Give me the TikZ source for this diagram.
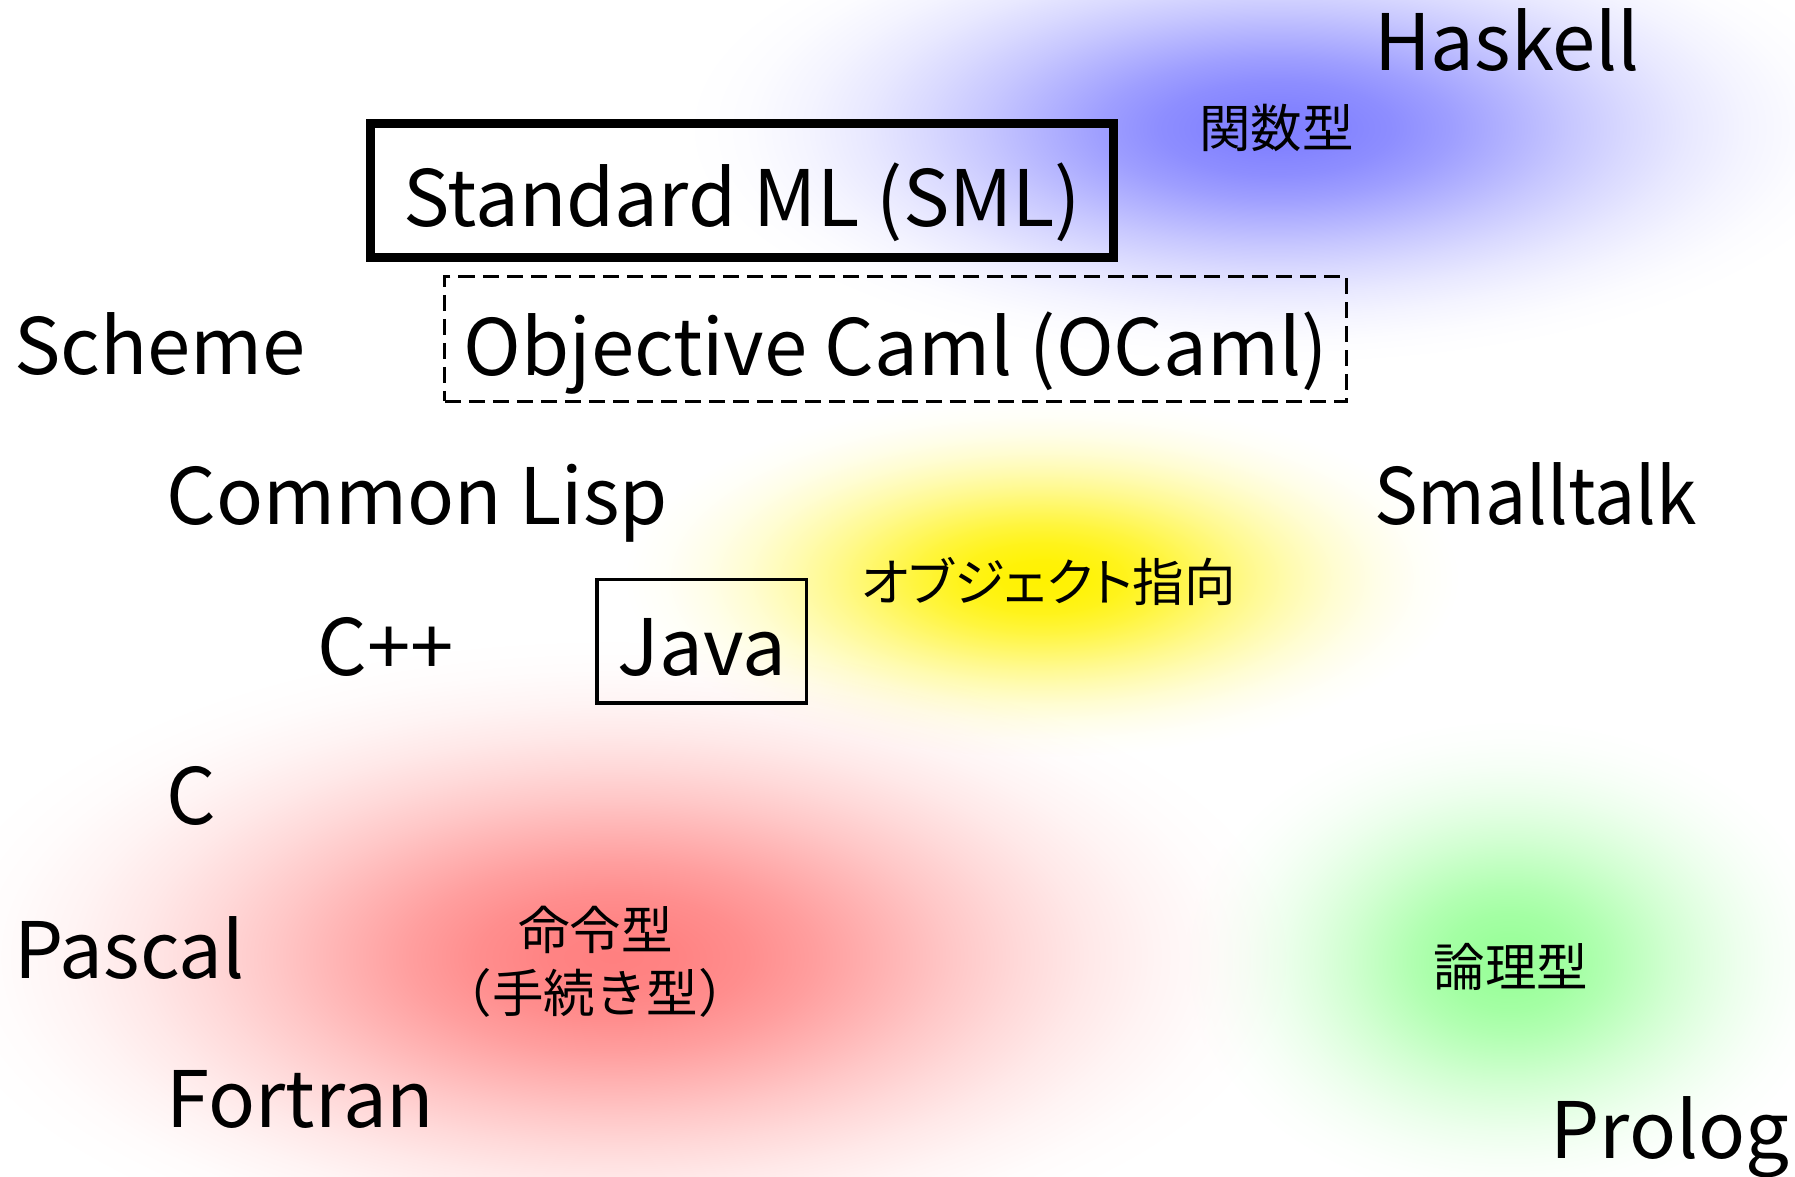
\documentclass[tikz,border=0pt]{standalone}
\usepackage{fontspec}
\setmainfont{Noto Sans CJK JP}
\usetikzlibrary{fadings}
\pgfdeclareradialshading{blobfadeshade}{\pgfpointorigin}{%
  color(0bp)=(white);
  color(2.5bp)=(white!97!black);
  color(5bp)=(white!89!black);
  color(7.5bp)=(white!76!black);
  color(10bp)=(white!60!black);
  color(12.5bp)=(white!44!black);
  color(15bp)=(white!30!black);
  color(17.5bp)=(white!18!black);
  color(20bp)=(white!9!black);
  color(22.5bp)=(white!3!black);
  color(25bp)=(black);
  color(50bp)=(black)}
\pgfdeclarefading{blobfade}{\pgfuseshading{blobfadeshade}}
\tikzset{
  lang/.style={font=\fontsize{34}{40}\selectfont, inner sep=0pt, anchor=base west},
  boxed/.style={draw, inner sep=0pt, text depth=0pt, font=\fontsize{34}{40}\selectfont},
  jp/.style={font=\fontsize{22.5}{27.5}\selectfont, inner sep=0pt, align=center},
  blob/.style={path fading=blobfade},
}
\begin{document}
\begin{tikzpicture}[x=0.5pt,y=-0.5pt]
\useasboundingbox (0,0) rectangle (1568,1027.4);
% blobs
\fill[blob, blue!50] (1115,112) ellipse [x radius=255pt, y radius=102pt];
\fill[blob, yellow] (910,505) ellipse [x radius=182pt, y radius=78pt];
\fill[blob, red!50] (535,836) ellipse [x radius=295pt, y radius=138pt];
\fill[blob, green!40] (1318,840) ellipse [x radius=142pt, y radius=106pt];
% boxed nodes
\node[boxed, line width=4pt, text height=31.5pt, minimum width=324.5pt, minimum height=58.5pt] (sml) at (648.5,166.5) {Standard ML (SML)};
\node[boxed, dash pattern=on 7pt off 3.5pt, line width=1.2pt, text height=32pt, minimum width=394pt, minimum height=54.5pt] (ocaml) at (782.5,296) {Objective Caml (OCaml)};
\node[boxed, line width=1.5pt, text height=30pt, minimum width=91.5pt, minimum height=54pt] (java) at (613,560) {Java};
% language labels
\node[lang] (haskell) at (1200,62) {Haskell};
\node[lang] (scheme) at (12,327) {Scheme};
\node[lang] (lisp) at (145,458) {Common Lisp};
\node[lang] (smalltalk) at (1200,458) {\scalebox{0.94}[1]{Smalltalk}};
\node[lang] (cpp) at (277,590) {C++};
\node[lang] (c) at (145,720) {C};
\node[lang] (pascal) at (12,855) {Pascal};
\node[lang] (fortran) at (145,985) {Fortran};
\node[lang] (prolog) at (1354,1012) {Prolog};
% paradigm labels
\node[jp] (func) at (1115,112) {関数型};
\node[jp] (oo) at (916,508) {\addfontfeature{CharacterWidth=AlternateProportional}オブジェクト指向};
\node[jp] (imp) at (520,840) {命令型\\（手続き型）};
\node[jp] (logic) at (1320,845) {論理型};
\end{tikzpicture}
\end{document}
